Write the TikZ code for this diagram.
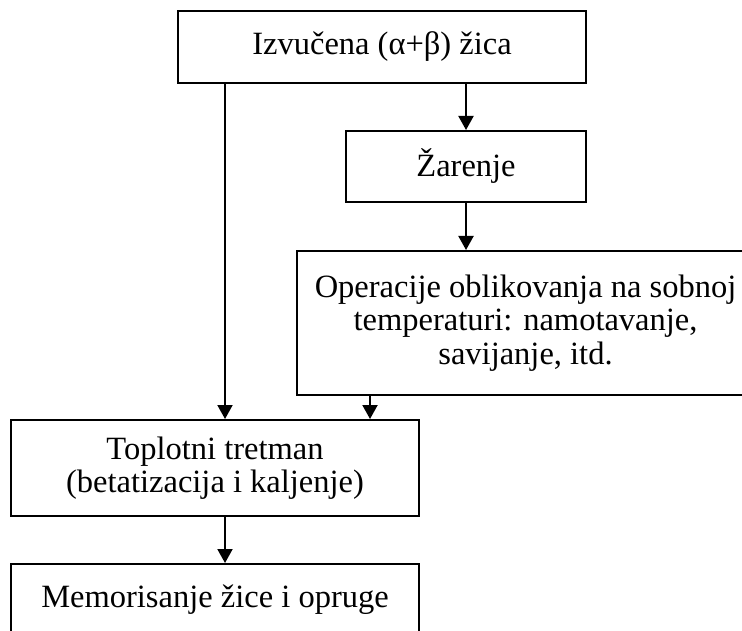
\documentclass[tikz,border=0pt]{standalone}
\usepackage{fontspec}
\setmainfont{Liberation Serif}
\usetikzlibrary{arrows.meta}
\newcommand{\boxfont}{\fontsize{16.25pt}{16.6pt}\selectfont}
\newcommand{\linew}{1pt}

\begin{document}
\begin{tikzpicture}[x=.5pt,y=-.5pt,
    box/.style={draw, line width=\linew, inner sep=0pt, align=center, font=\boxfont},
    arr/.style={line width=\linew, -{Triangle[length=7pt,width=7.5pt]}}]
  \useasboundingbox (0,0) rectangle (742,630);
  \clip (0,0) rectangle (742,630);
        %%  wire processing steps  %%
  \node (izv) at (382,47) [box, minimum width=204pt, minimum height=36pt] {Izvučena (α+β) žica};
  \node (zar) at (466,166.5) [box, minimum width=120pt, minimum height=35.5pt] {Žarenje};
  \node (oper) at (525.5,323) [box, minimum width=228.5pt, minimum height=72pt]
      {Operacije oblikovanja na sobnoj\\ temperaturi: namotavanje,\\ savijanje, itd.};
  \node (topl) at (215,468) [box, minimum width=204pt, minimum height=48pt]
      {Toplotni tretman\\ (betatizacija i kaljenje)};
  \node (mem) at (215,600) [box, minimum width=204pt, minimum height=36pt] {Memorisanje žice i opruge};

  \coordinate (l1) at ([xshift=24pt]izv.south west);
  \coordinate (o1) at ([xshift=37pt]oper.south west);
  \draw[arr] (l1) to (l1 |- topl.north);
  \draw[arr] (izv.south -| zar.north) to (zar.north);
  \draw[arr] (zar.south) to (zar.south |- oper.north);
  \draw[arr] (o1) to (o1 |- topl.north);
  \draw[arr] (l1 |- topl.south) to (l1 |- mem.north);
\end{tikzpicture}
\end{document}
